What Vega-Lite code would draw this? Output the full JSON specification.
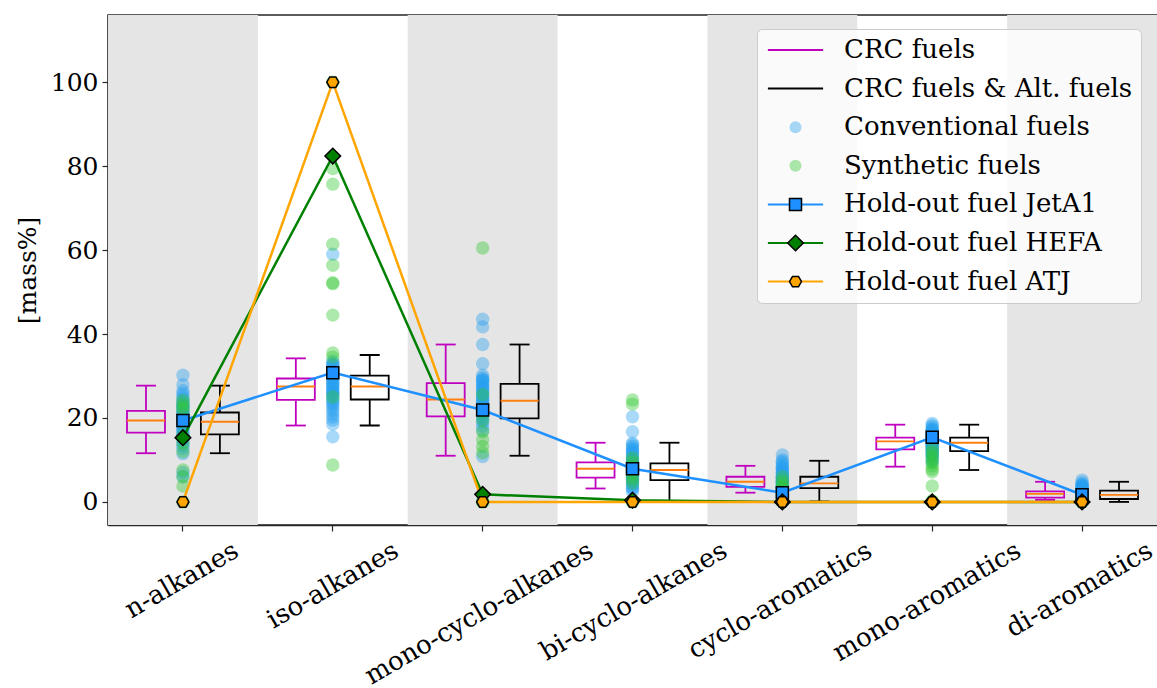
{
"$schema": "https://vega.github.io/schema/vega-lite/v6.json",
"width": 1049, "height": 510,
"autosize": "none",
"padding": {"left": 108, "top": 15, "right": 0, "bottom": 163},
"background": "white",
"config": {"font": "DejaVu Serif", "view": {"stroke": "#262626", "strokeWidth": 1.5}, "axis": {"grid": false}},
"datasets": {
"bands": [{"category": "n-alkanes"}, {"category": "mono-cyclo-alkanes"}, {"category": "cyclo-aromatics"}, {"category": "di-aromatics"}],
"boxes": [
{"category": "n-alkanes", "group": "CRC fuels", "lo": 11.6, "q1": 16.5, "med": 19.4, "q3": 21.7, "hi": 27.7},
{"category": "n-alkanes", "group": "CRC fuels & Alt. fuels", "lo": 11.6, "q1": 16.1, "med": 19.1, "q3": 21.3, "hi": 27.7},
{"category": "iso-alkanes", "group": "CRC fuels", "lo": 18.2, "q1": 24.3, "med": 27.5, "q3": 29.4, "hi": 34.2},
{"category": "iso-alkanes", "group": "CRC fuels & Alt. fuels", "lo": 18.2, "q1": 24.4, "med": 27.5, "q3": 30.1, "hi": 35.0},
{"category": "mono-cyclo-alkanes", "group": "CRC fuels", "lo": 11.0, "q1": 20.4, "med": 24.4, "q3": 28.3, "hi": 37.5},
{"category": "mono-cyclo-alkanes", "group": "CRC fuels & Alt. fuels", "lo": 11.0, "q1": 19.9, "med": 24.1, "q3": 28.1, "hi": 37.5},
{"category": "bi-cyclo-alkanes", "group": "CRC fuels", "lo": 3.2, "q1": 5.8, "med": 7.9, "q3": 9.4, "hi": 14.1},
{"category": "bi-cyclo-alkanes", "group": "CRC fuels & Alt. fuels", "lo": 0.2, "q1": 5.2, "med": 7.6, "q3": 9.2, "hi": 14.1},
{"category": "cyclo-aromatics", "group": "CRC fuels", "lo": 2.2, "q1": 3.6, "med": 4.8, "q3": 6.0, "hi": 8.6},
{"category": "cyclo-aromatics", "group": "CRC fuels & Alt. fuels", "lo": 0.1, "q1": 3.3, "med": 4.4, "q3": 6.0, "hi": 9.8},
{"category": "mono-aromatics", "group": "CRC fuels", "lo": 8.4, "q1": 12.5, "med": 14.4, "q3": 15.3, "hi": 18.4},
{"category": "mono-aromatics", "group": "CRC fuels & Alt. fuels", "lo": 7.6, "q1": 12.1, "med": 14.1, "q3": 15.3, "hi": 18.4},
{"category": "di-aromatics", "group": "CRC fuels", "lo": 0.5, "q1": 1.0, "med": 1.9, "q3": 2.5, "hi": 4.8},
{"category": "di-aromatics", "group": "CRC fuels & Alt. fuels", "lo": 0.0, "q1": 0.7, "med": 1.7, "q3": 2.7, "hi": 4.8}
],
"holdout": [
{"category": "n-alkanes", "series": "Hold-out fuel JetA1", "value": 19.4},
{"category": "iso-alkanes", "series": "Hold-out fuel JetA1", "value": 30.8},
{"category": "mono-cyclo-alkanes", "series": "Hold-out fuel JetA1", "value": 21.9},
{"category": "bi-cyclo-alkanes", "series": "Hold-out fuel JetA1", "value": 7.9},
{"category": "cyclo-aromatics", "series": "Hold-out fuel JetA1", "value": 2.2},
{"category": "mono-aromatics", "series": "Hold-out fuel JetA1", "value": 15.4},
{"category": "di-aromatics", "series": "Hold-out fuel JetA1", "value": 1.7},
{"category": "n-alkanes", "series": "Hold-out fuel HEFA", "value": 15.3},
{"category": "iso-alkanes", "series": "Hold-out fuel HEFA", "value": 82.4},
{"category": "mono-cyclo-alkanes", "series": "Hold-out fuel HEFA", "value": 1.8},
{"category": "bi-cyclo-alkanes", "series": "Hold-out fuel HEFA", "value": 0.4},
{"category": "cyclo-aromatics", "series": "Hold-out fuel HEFA", "value": 0.0},
{"category": "mono-aromatics", "series": "Hold-out fuel HEFA", "value": 0.0},
{"category": "di-aromatics", "series": "Hold-out fuel HEFA", "value": 0.0},
{"category": "n-alkanes", "series": "Hold-out fuel ATJ", "value": 0.0},
{"category": "iso-alkanes", "series": "Hold-out fuel ATJ", "value": 100.0},
{"category": "mono-cyclo-alkanes", "series": "Hold-out fuel ATJ", "value": 0.0},
{"category": "bi-cyclo-alkanes", "series": "Hold-out fuel ATJ", "value": 0.0},
{"category": "cyclo-aromatics", "series": "Hold-out fuel ATJ", "value": 0.0},
{"category": "mono-aromatics", "series": "Hold-out fuel ATJ", "value": 0.0},
{"category": "di-aromatics", "series": "Hold-out fuel ATJ", "value": 0.0}
],
"points": [
{"category":"n-alkanes","series":"Conventional fuels","value":30.2},{"category":"n-alkanes","series":"Conventional fuels","value":27.9},{"category":"n-alkanes","series":"Conventional fuels","value":26.5},{"category":"n-alkanes","series":"Conventional fuels","value":25.8},{"category":"n-alkanes","series":"Conventional fuels","value":25.2},{"category":"n-alkanes","series":"Conventional fuels","value":24.6},{"category":"n-alkanes","series":"Conventional fuels","value":24.0},{"category":"n-alkanes","series":"Conventional fuels","value":23.5},{"category":"n-alkanes","series":"Conventional fuels","value":23.1},{"category":"n-alkanes","series":"Conventional fuels","value":22.7},{"category":"n-alkanes","series":"Conventional fuels","value":22.3},{"category":"n-alkanes","series":"Conventional fuels","value":21.9},{"category":"n-alkanes","series":"Conventional fuels","value":21.5},{"category":"n-alkanes","series":"Conventional fuels","value":21.1},{"category":"n-alkanes","series":"Conventional fuels","value":20.7},{"category":"n-alkanes","series":"Conventional fuels","value":20.3},{"category":"n-alkanes","series":"Conventional fuels","value":20.0},{"category":"n-alkanes","series":"Conventional fuels","value":19.6},{"category":"n-alkanes","series":"Conventional fuels","value":19.2},{"category":"n-alkanes","series":"Conventional fuels","value":18.8},{"category":"n-alkanes","series":"Conventional fuels","value":18.4},{"category":"n-alkanes","series":"Conventional fuels","value":18.0},{"category":"n-alkanes","series":"Conventional fuels","value":17.6},{"category":"n-alkanes","series":"Conventional fuels","value":17.2},{"category":"n-alkanes","series":"Conventional fuels","value":16.8},{"category":"n-alkanes","series":"Conventional fuels","value":16.4},{"category":"n-alkanes","series":"Conventional fuels","value":16.0},{"category":"n-alkanes","series":"Conventional fuels","value":15.5},{"category":"n-alkanes","series":"Conventional fuels","value":15.0},{"category":"n-alkanes","series":"Conventional fuels","value":14.3},{"category":"n-alkanes","series":"Conventional fuels","value":13.5},{"category":"n-alkanes","series":"Conventional fuels","value":12.8},{"category":"n-alkanes","series":"Conventional fuels","value":11.5},{"category":"n-alkanes","series":"Conventional fuels","value":7.0},{"category":"n-alkanes","series":"Conventional fuels","value":6.0},{"category":"n-alkanes","series":"Conventional fuels","value":19.5},{"category":"n-alkanes","series":"Conventional fuels","value":21.0},{"category":"n-alkanes","series":"Conventional fuels","value":23.0},
{"category":"n-alkanes","series":"Synthetic fuels","value":24.2},{"category":"n-alkanes","series":"Synthetic fuels","value":23.3},{"category":"n-alkanes","series":"Synthetic fuels","value":22.5},{"category":"n-alkanes","series":"Synthetic fuels","value":21.8},{"category":"n-alkanes","series":"Synthetic fuels","value":19.0},{"category":"n-alkanes","series":"Synthetic fuels","value":15.8},{"category":"n-alkanes","series":"Synthetic fuels","value":14.0},{"category":"n-alkanes","series":"Synthetic fuels","value":12.0},{"category":"n-alkanes","series":"Synthetic fuels","value":7.6},{"category":"n-alkanes","series":"Synthetic fuels","value":6.0},{"category":"n-alkanes","series":"Synthetic fuels","value":3.8},{"category":"n-alkanes","series":"Synthetic fuels","value":0.0},
{"category":"iso-alkanes","series":"Conventional fuels","value":59.0},{"category":"iso-alkanes","series":"Conventional fuels","value":33.5},{"category":"iso-alkanes","series":"Conventional fuels","value":33.0},{"category":"iso-alkanes","series":"Conventional fuels","value":32.5},{"category":"iso-alkanes","series":"Conventional fuels","value":32.0},{"category":"iso-alkanes","series":"Conventional fuels","value":31.5},{"category":"iso-alkanes","series":"Conventional fuels","value":31.0},{"category":"iso-alkanes","series":"Conventional fuels","value":30.6},{"category":"iso-alkanes","series":"Conventional fuels","value":30.2},{"category":"iso-alkanes","series":"Conventional fuels","value":29.8},{"category":"iso-alkanes","series":"Conventional fuels","value":29.4},{"category":"iso-alkanes","series":"Conventional fuels","value":29.0},{"category":"iso-alkanes","series":"Conventional fuels","value":28.6},{"category":"iso-alkanes","series":"Conventional fuels","value":28.2},{"category":"iso-alkanes","series":"Conventional fuels","value":27.8},{"category":"iso-alkanes","series":"Conventional fuels","value":27.4},{"category":"iso-alkanes","series":"Conventional fuels","value":27.0},{"category":"iso-alkanes","series":"Conventional fuels","value":26.6},{"category":"iso-alkanes","series":"Conventional fuels","value":26.2},{"category":"iso-alkanes","series":"Conventional fuels","value":25.8},{"category":"iso-alkanes","series":"Conventional fuels","value":25.4},{"category":"iso-alkanes","series":"Conventional fuels","value":25.0},{"category":"iso-alkanes","series":"Conventional fuels","value":24.5},{"category":"iso-alkanes","series":"Conventional fuels","value":24.0},{"category":"iso-alkanes","series":"Conventional fuels","value":23.5},{"category":"iso-alkanes","series":"Conventional fuels","value":23.0},{"category":"iso-alkanes","series":"Conventional fuels","value":22.4},{"category":"iso-alkanes","series":"Conventional fuels","value":21.8},{"category":"iso-alkanes","series":"Conventional fuels","value":21.0},{"category":"iso-alkanes","series":"Conventional fuels","value":20.2},{"category":"iso-alkanes","series":"Conventional fuels","value":19.5},{"category":"iso-alkanes","series":"Conventional fuels","value":18.5},{"category":"iso-alkanes","series":"Conventional fuels","value":15.5},{"category":"iso-alkanes","series":"Conventional fuels","value":30.0},{"category":"iso-alkanes","series":"Conventional fuels","value":28.0},{"category":"iso-alkanes","series":"Conventional fuels","value":26.0},{"category":"iso-alkanes","series":"Conventional fuels","value":32.8},{"category":"iso-alkanes","series":"Conventional fuels","value":31.2},
{"category":"iso-alkanes","series":"Synthetic fuels","value":100.0},{"category":"iso-alkanes","series":"Synthetic fuels","value":79.4},{"category":"iso-alkanes","series":"Synthetic fuels","value":75.7},{"category":"iso-alkanes","series":"Synthetic fuels","value":61.4},{"category":"iso-alkanes","series":"Synthetic fuels","value":56.4},{"category":"iso-alkanes","series":"Synthetic fuels","value":52.2},{"category":"iso-alkanes","series":"Synthetic fuels","value":52.0},{"category":"iso-alkanes","series":"Synthetic fuels","value":44.5},{"category":"iso-alkanes","series":"Synthetic fuels","value":35.5},{"category":"iso-alkanes","series":"Synthetic fuels","value":34.5},{"category":"iso-alkanes","series":"Synthetic fuels","value":25.0},{"category":"iso-alkanes","series":"Synthetic fuels","value":8.8},
{"category":"mono-cyclo-alkanes","series":"Conventional fuels","value":43.5},{"category":"mono-cyclo-alkanes","series":"Conventional fuels","value":41.7},{"category":"mono-cyclo-alkanes","series":"Conventional fuels","value":37.5},{"category":"mono-cyclo-alkanes","series":"Conventional fuels","value":32.9},{"category":"mono-cyclo-alkanes","series":"Conventional fuels","value":30.2},{"category":"mono-cyclo-alkanes","series":"Conventional fuels","value":29.6},{"category":"mono-cyclo-alkanes","series":"Conventional fuels","value":29.0},{"category":"mono-cyclo-alkanes","series":"Conventional fuels","value":28.5},{"category":"mono-cyclo-alkanes","series":"Conventional fuels","value":28.0},{"category":"mono-cyclo-alkanes","series":"Conventional fuels","value":27.5},{"category":"mono-cyclo-alkanes","series":"Conventional fuels","value":27.0},{"category":"mono-cyclo-alkanes","series":"Conventional fuels","value":26.5},{"category":"mono-cyclo-alkanes","series":"Conventional fuels","value":26.0},{"category":"mono-cyclo-alkanes","series":"Conventional fuels","value":25.5},{"category":"mono-cyclo-alkanes","series":"Conventional fuels","value":25.0},{"category":"mono-cyclo-alkanes","series":"Conventional fuels","value":24.5},{"category":"mono-cyclo-alkanes","series":"Conventional fuels","value":24.0},{"category":"mono-cyclo-alkanes","series":"Conventional fuels","value":23.5},{"category":"mono-cyclo-alkanes","series":"Conventional fuels","value":23.0},{"category":"mono-cyclo-alkanes","series":"Conventional fuels","value":22.5},{"category":"mono-cyclo-alkanes","series":"Conventional fuels","value":22.0},{"category":"mono-cyclo-alkanes","series":"Conventional fuels","value":21.5},{"category":"mono-cyclo-alkanes","series":"Conventional fuels","value":21.0},{"category":"mono-cyclo-alkanes","series":"Conventional fuels","value":20.5},{"category":"mono-cyclo-alkanes","series":"Conventional fuels","value":20.0},{"category":"mono-cyclo-alkanes","series":"Conventional fuels","value":19.5},{"category":"mono-cyclo-alkanes","series":"Conventional fuels","value":19.0},{"category":"mono-cyclo-alkanes","series":"Conventional fuels","value":18.0},{"category":"mono-cyclo-alkanes","series":"Conventional fuels","value":17.1},{"category":"mono-cyclo-alkanes","series":"Conventional fuels","value":10.8},{"category":"mono-cyclo-alkanes","series":"Conventional fuels","value":29.2},{"category":"mono-cyclo-alkanes","series":"Conventional fuels","value":27.2},{"category":"mono-cyclo-alkanes","series":"Conventional fuels","value":25.2},{"category":"mono-cyclo-alkanes","series":"Conventional fuels","value":23.2},{"category":"mono-cyclo-alkanes","series":"Conventional fuels","value":21.2},{"category":"mono-cyclo-alkanes","series":"Conventional fuels","value":24.2},{"category":"mono-cyclo-alkanes","series":"Conventional fuels","value":26.2},{"category":"mono-cyclo-alkanes","series":"Conventional fuels","value":28.8},
{"category":"mono-cyclo-alkanes","series":"Synthetic fuels","value":60.5},{"category":"mono-cyclo-alkanes","series":"Synthetic fuels","value":25.6},{"category":"mono-cyclo-alkanes","series":"Synthetic fuels","value":22.0},{"category":"mono-cyclo-alkanes","series":"Synthetic fuels","value":21.5},{"category":"mono-cyclo-alkanes","series":"Synthetic fuels","value":16.7},{"category":"mono-cyclo-alkanes","series":"Synthetic fuels","value":14.8},{"category":"mono-cyclo-alkanes","series":"Synthetic fuels","value":13.2},{"category":"mono-cyclo-alkanes","series":"Synthetic fuels","value":11.7},{"category":"mono-cyclo-alkanes","series":"Synthetic fuels","value":19.5},{"category":"mono-cyclo-alkanes","series":"Synthetic fuels","value":0.0},{"category":"mono-cyclo-alkanes","series":"Synthetic fuels","value":0.0},{"category":"mono-cyclo-alkanes","series":"Synthetic fuels","value":0.3},
{"category":"bi-cyclo-alkanes","series":"Conventional fuels","value":20.3},{"category":"bi-cyclo-alkanes","series":"Conventional fuels","value":16.7},{"category":"bi-cyclo-alkanes","series":"Conventional fuels","value":14.0},{"category":"bi-cyclo-alkanes","series":"Conventional fuels","value":13.2},{"category":"bi-cyclo-alkanes","series":"Conventional fuels","value":12.6},{"category":"bi-cyclo-alkanes","series":"Conventional fuels","value":12.0},{"category":"bi-cyclo-alkanes","series":"Conventional fuels","value":11.5},{"category":"bi-cyclo-alkanes","series":"Conventional fuels","value":11.0},{"category":"bi-cyclo-alkanes","series":"Conventional fuels","value":10.6},{"category":"bi-cyclo-alkanes","series":"Conventional fuels","value":10.2},{"category":"bi-cyclo-alkanes","series":"Conventional fuels","value":9.8},{"category":"bi-cyclo-alkanes","series":"Conventional fuels","value":9.4},{"category":"bi-cyclo-alkanes","series":"Conventional fuels","value":9.0},{"category":"bi-cyclo-alkanes","series":"Conventional fuels","value":8.6},{"category":"bi-cyclo-alkanes","series":"Conventional fuels","value":8.2},{"category":"bi-cyclo-alkanes","series":"Conventional fuels","value":7.8},{"category":"bi-cyclo-alkanes","series":"Conventional fuels","value":7.4},{"category":"bi-cyclo-alkanes","series":"Conventional fuels","value":7.0},{"category":"bi-cyclo-alkanes","series":"Conventional fuels","value":6.6},{"category":"bi-cyclo-alkanes","series":"Conventional fuels","value":6.2},{"category":"bi-cyclo-alkanes","series":"Conventional fuels","value":5.8},{"category":"bi-cyclo-alkanes","series":"Conventional fuels","value":5.4},{"category":"bi-cyclo-alkanes","series":"Conventional fuels","value":5.0},{"category":"bi-cyclo-alkanes","series":"Conventional fuels","value":4.6},{"category":"bi-cyclo-alkanes","series":"Conventional fuels","value":4.2},{"category":"bi-cyclo-alkanes","series":"Conventional fuels","value":3.8},{"category":"bi-cyclo-alkanes","series":"Conventional fuels","value":3.4},{"category":"bi-cyclo-alkanes","series":"Conventional fuels","value":3.0},{"category":"bi-cyclo-alkanes","series":"Conventional fuels","value":2.5},{"category":"bi-cyclo-alkanes","series":"Conventional fuels","value":12.5},{"category":"bi-cyclo-alkanes","series":"Conventional fuels","value":10.0},{"category":"bi-cyclo-alkanes","series":"Conventional fuels","value":8.0},{"category":"bi-cyclo-alkanes","series":"Conventional fuels","value":6.0},{"category":"bi-cyclo-alkanes","series":"Conventional fuels","value":11.8},{"category":"bi-cyclo-alkanes","series":"Conventional fuels","value":9.2},{"category":"bi-cyclo-alkanes","series":"Conventional fuels","value":7.2},{"category":"bi-cyclo-alkanes","series":"Conventional fuels","value":5.2},{"category":"bi-cyclo-alkanes","series":"Conventional fuels","value":13.6},
{"category":"bi-cyclo-alkanes","series":"Synthetic fuels","value":24.3},{"category":"bi-cyclo-alkanes","series":"Synthetic fuels","value":23.3},{"category":"bi-cyclo-alkanes","series":"Synthetic fuels","value":10.5},{"category":"bi-cyclo-alkanes","series":"Synthetic fuels","value":9.5},{"category":"bi-cyclo-alkanes","series":"Synthetic fuels","value":8.5},{"category":"bi-cyclo-alkanes","series":"Synthetic fuels","value":7.5},{"category":"bi-cyclo-alkanes","series":"Synthetic fuels","value":6.5},{"category":"bi-cyclo-alkanes","series":"Synthetic fuels","value":5.5},{"category":"bi-cyclo-alkanes","series":"Synthetic fuels","value":4.5},{"category":"bi-cyclo-alkanes","series":"Synthetic fuels","value":0.0},{"category":"bi-cyclo-alkanes","series":"Synthetic fuels","value":0.0},{"category":"bi-cyclo-alkanes","series":"Synthetic fuels","value":0.2},
{"category":"cyclo-aromatics","series":"Conventional fuels","value":11.2},{"category":"cyclo-aromatics","series":"Conventional fuels","value":10.0},{"category":"cyclo-aromatics","series":"Conventional fuels","value":9.2},{"category":"cyclo-aromatics","series":"Conventional fuels","value":8.6},{"category":"cyclo-aromatics","series":"Conventional fuels","value":8.0},{"category":"cyclo-aromatics","series":"Conventional fuels","value":7.5},{"category":"cyclo-aromatics","series":"Conventional fuels","value":7.0},{"category":"cyclo-aromatics","series":"Conventional fuels","value":6.6},{"category":"cyclo-aromatics","series":"Conventional fuels","value":6.2},{"category":"cyclo-aromatics","series":"Conventional fuels","value":5.8},{"category":"cyclo-aromatics","series":"Conventional fuels","value":5.4},{"category":"cyclo-aromatics","series":"Conventional fuels","value":5.0},{"category":"cyclo-aromatics","series":"Conventional fuels","value":4.7},{"category":"cyclo-aromatics","series":"Conventional fuels","value":4.4},{"category":"cyclo-aromatics","series":"Conventional fuels","value":4.1},{"category":"cyclo-aromatics","series":"Conventional fuels","value":3.8},{"category":"cyclo-aromatics","series":"Conventional fuels","value":3.5},{"category":"cyclo-aromatics","series":"Conventional fuels","value":3.2},{"category":"cyclo-aromatics","series":"Conventional fuels","value":2.9},{"category":"cyclo-aromatics","series":"Conventional fuels","value":2.6},{"category":"cyclo-aromatics","series":"Conventional fuels","value":2.3},{"category":"cyclo-aromatics","series":"Conventional fuels","value":2.0},{"category":"cyclo-aromatics","series":"Conventional fuels","value":1.7},{"category":"cyclo-aromatics","series":"Conventional fuels","value":1.4},{"category":"cyclo-aromatics","series":"Conventional fuels","value":6.0},{"category":"cyclo-aromatics","series":"Conventional fuels","value":5.2},{"category":"cyclo-aromatics","series":"Conventional fuels","value":4.5},{"category":"cyclo-aromatics","series":"Conventional fuels","value":3.6},{"category":"cyclo-aromatics","series":"Conventional fuels","value":7.8},{"category":"cyclo-aromatics","series":"Conventional fuels","value":6.8},{"category":"cyclo-aromatics","series":"Conventional fuels","value":5.6},{"category":"cyclo-aromatics","series":"Conventional fuels","value":4.9},{"category":"cyclo-aromatics","series":"Conventional fuels","value":4.2},{"category":"cyclo-aromatics","series":"Conventional fuels","value":3.0},{"category":"cyclo-aromatics","series":"Conventional fuels","value":2.4},{"category":"cyclo-aromatics","series":"Conventional fuels","value":9.6},{"category":"cyclo-aromatics","series":"Conventional fuels","value":8.3},{"category":"cyclo-aromatics","series":"Conventional fuels","value":1.0},
{"category":"cyclo-aromatics","series":"Synthetic fuels","value":6.0},{"category":"cyclo-aromatics","series":"Synthetic fuels","value":5.0},{"category":"cyclo-aromatics","series":"Synthetic fuels","value":4.2},{"category":"cyclo-aromatics","series":"Synthetic fuels","value":3.6},{"category":"cyclo-aromatics","series":"Synthetic fuels","value":3.0},{"category":"cyclo-aromatics","series":"Synthetic fuels","value":2.5},{"category":"cyclo-aromatics","series":"Synthetic fuels","value":2.0},{"category":"cyclo-aromatics","series":"Synthetic fuels","value":1.5},{"category":"cyclo-aromatics","series":"Synthetic fuels","value":1.0},{"category":"cyclo-aromatics","series":"Synthetic fuels","value":0.5},{"category":"cyclo-aromatics","series":"Synthetic fuels","value":0.0},{"category":"cyclo-aromatics","series":"Synthetic fuels","value":0.0},
{"category":"mono-aromatics","series":"Conventional fuels","value":18.7},{"category":"mono-aromatics","series":"Conventional fuels","value":18.2},{"category":"mono-aromatics","series":"Conventional fuels","value":17.8},{"category":"mono-aromatics","series":"Conventional fuels","value":17.4},{"category":"mono-aromatics","series":"Conventional fuels","value":17.0},{"category":"mono-aromatics","series":"Conventional fuels","value":16.6},{"category":"mono-aromatics","series":"Conventional fuels","value":16.3},{"category":"mono-aromatics","series":"Conventional fuels","value":16.0},{"category":"mono-aromatics","series":"Conventional fuels","value":15.7},{"category":"mono-aromatics","series":"Conventional fuels","value":15.4},{"category":"mono-aromatics","series":"Conventional fuels","value":15.1},{"category":"mono-aromatics","series":"Conventional fuels","value":14.8},{"category":"mono-aromatics","series":"Conventional fuels","value":14.5},{"category":"mono-aromatics","series":"Conventional fuels","value":14.2},{"category":"mono-aromatics","series":"Conventional fuels","value":13.9},{"category":"mono-aromatics","series":"Conventional fuels","value":13.6},{"category":"mono-aromatics","series":"Conventional fuels","value":13.3},{"category":"mono-aromatics","series":"Conventional fuels","value":13.0},{"category":"mono-aromatics","series":"Conventional fuels","value":12.7},{"category":"mono-aromatics","series":"Conventional fuels","value":12.4},{"category":"mono-aromatics","series":"Conventional fuels","value":12.1},{"category":"mono-aromatics","series":"Conventional fuels","value":11.8},{"category":"mono-aromatics","series":"Conventional fuels","value":11.5},{"category":"mono-aromatics","series":"Conventional fuels","value":11.0},{"category":"mono-aromatics","series":"Conventional fuels","value":10.5},{"category":"mono-aromatics","series":"Conventional fuels","value":10.0},{"category":"mono-aromatics","series":"Conventional fuels","value":9.5},{"category":"mono-aromatics","series":"Conventional fuels","value":17.2},{"category":"mono-aromatics","series":"Conventional fuels","value":16.2},{"category":"mono-aromatics","series":"Conventional fuels","value":15.0},{"category":"mono-aromatics","series":"Conventional fuels","value":14.0},{"category":"mono-aromatics","series":"Conventional fuels","value":13.2},{"category":"mono-aromatics","series":"Conventional fuels","value":12.2},{"category":"mono-aromatics","series":"Conventional fuels","value":11.2},{"category":"mono-aromatics","series":"Conventional fuels","value":15.6},{"category":"mono-aromatics","series":"Conventional fuels","value":14.6},{"category":"mono-aromatics","series":"Conventional fuels","value":13.8},{"category":"mono-aromatics","series":"Conventional fuels","value":16.8},
{"category":"mono-aromatics","series":"Synthetic fuels","value":12.8},{"category":"mono-aromatics","series":"Synthetic fuels","value":11.8},{"category":"mono-aromatics","series":"Synthetic fuels","value":11.0},{"category":"mono-aromatics","series":"Synthetic fuels","value":10.2},{"category":"mono-aromatics","series":"Synthetic fuels","value":9.4},{"category":"mono-aromatics","series":"Synthetic fuels","value":8.6},{"category":"mono-aromatics","series":"Synthetic fuels","value":7.8},{"category":"mono-aromatics","series":"Synthetic fuels","value":7.2},{"category":"mono-aromatics","series":"Synthetic fuels","value":3.8},{"category":"mono-aromatics","series":"Synthetic fuels","value":0.0},{"category":"mono-aromatics","series":"Synthetic fuels","value":0.0},{"category":"mono-aromatics","series":"Synthetic fuels","value":0.3},
{"category":"di-aromatics","series":"Conventional fuels","value":5.2},{"category":"di-aromatics","series":"Conventional fuels","value":4.6},{"category":"di-aromatics","series":"Conventional fuels","value":4.2},{"category":"di-aromatics","series":"Conventional fuels","value":3.9},{"category":"di-aromatics","series":"Conventional fuels","value":3.6},{"category":"di-aromatics","series":"Conventional fuels","value":3.3},{"category":"di-aromatics","series":"Conventional fuels","value":3.0},{"category":"di-aromatics","series":"Conventional fuels","value":2.8},{"category":"di-aromatics","series":"Conventional fuels","value":2.6},{"category":"di-aromatics","series":"Conventional fuels","value":2.4},{"category":"di-aromatics","series":"Conventional fuels","value":2.2},{"category":"di-aromatics","series":"Conventional fuels","value":2.0},{"category":"di-aromatics","series":"Conventional fuels","value":1.8},{"category":"di-aromatics","series":"Conventional fuels","value":1.6},{"category":"di-aromatics","series":"Conventional fuels","value":1.4},{"category":"di-aromatics","series":"Conventional fuels","value":1.2},{"category":"di-aromatics","series":"Conventional fuels","value":1.0},{"category":"di-aromatics","series":"Conventional fuels","value":0.8},{"category":"di-aromatics","series":"Conventional fuels","value":0.6},{"category":"di-aromatics","series":"Conventional fuels","value":0.4},{"category":"di-aromatics","series":"Conventional fuels","value":3.4},{"category":"di-aromatics","series":"Conventional fuels","value":2.9},{"category":"di-aromatics","series":"Conventional fuels","value":2.5},{"category":"di-aromatics","series":"Conventional fuels","value":2.1},{"category":"di-aromatics","series":"Conventional fuels","value":1.7},{"category":"di-aromatics","series":"Conventional fuels","value":1.3},{"category":"di-aromatics","series":"Conventional fuels","value":0.9},{"category":"di-aromatics","series":"Conventional fuels","value":3.7},{"category":"di-aromatics","series":"Conventional fuels","value":3.1},{"category":"di-aromatics","series":"Conventional fuels","value":2.3},{"category":"di-aromatics","series":"Conventional fuels","value":1.9},{"category":"di-aromatics","series":"Conventional fuels","value":1.5},{"category":"di-aromatics","series":"Conventional fuels","value":1.1},{"category":"di-aromatics","series":"Conventional fuels","value":0.7},{"category":"di-aromatics","series":"Conventional fuels","value":2.7},{"category":"di-aromatics","series":"Conventional fuels","value":2.0},{"category":"di-aromatics","series":"Conventional fuels","value":1.6},{"category":"di-aromatics","series":"Conventional fuels","value":4.0},
{"category":"di-aromatics","series":"Synthetic fuels","value":1.2},{"category":"di-aromatics","series":"Synthetic fuels","value":1.0},{"category":"di-aromatics","series":"Synthetic fuels","value":0.8},{"category":"di-aromatics","series":"Synthetic fuels","value":0.6},{"category":"di-aromatics","series":"Synthetic fuels","value":0.4},{"category":"di-aromatics","series":"Synthetic fuels","value":0.2},{"category":"di-aromatics","series":"Synthetic fuels","value":0.0},{"category":"di-aromatics","series":"Synthetic fuels","value":0.0},{"category":"di-aromatics","series":"Synthetic fuels","value":0.0},{"category":"di-aromatics","series":"Synthetic fuels","value":0.1},{"category":"di-aromatics","series":"Synthetic fuels","value":0.3},{"category":"di-aromatics","series":"Synthetic fuels","value":0.5}
]
},
"encoding": {
"x": {"field": "category", "type": "nominal", "title": null,
"sort": ["n-alkanes", "iso-alkanes", "mono-cyclo-alkanes", "bi-cyclo-alkanes", "cyclo-aromatics", "mono-aromatics", "di-aromatics"],
"scale": {"paddingInner": 0, "paddingOuter": 0},
"axis": {"labelAngle": -30, "labelAlign": "right", "labelBaseline": "top", "labelFont": "DejaVu Serif", "labelFontSize": 26, "labelColor": "black", "labelPadding": 6, "tickSize": 6, "tickWidth": 1.2, "tickColor": "#262626", "domainColor": "#262626", "domainWidth": 1.5, "labelOverlap": false, "labelLimit": 500,
"labelOffset": {"condition": [{"test": "datum.value == 'n-alkanes'", "value": 47}, {"test": "datum.value == 'iso-alkanes'", "value": 57}, {"test": "datum.value == 'mono-cyclo-alkanes'", "value": 102}, {"test": "datum.value == 'bi-cyclo-alkanes'", "value": 86}, {"test": "datum.value == 'cyclo-aromatics'", "value": 81}, {"test": "datum.value == 'mono-aromatics'", "value": 80}], "value": 62}}}
},
"layer": [
{"data": {"name": "bands"}, "mark": {"type": "bar", "color": "#e5e5e5", "opacity": 1},
 "encoding": {"y": {"datum": 116, "type": "quantitative"}, "y2": {"datum": -5.5}}},
{"data": {"name": "boxes"},
 "encoding": {
  "xOffset": {"field": "group", "type": "nominal", "sort": ["CRC fuels", "CRC fuels & Alt. fuels"], "scale": {"paddingInner": 0.486, "paddingOuter": 0.257}},
  "color": {"field": "group", "type": "nominal", "scale": {"domain": ["CRC fuels", "CRC fuels & Alt. fuels"], "range": ["#bf00bf", "black"]}, "legend": null}},
 "layer": [
  {"mark": {"type": "bar", "filled": false, "strokeWidth": 1.8, "opacity": 1}, "encoding": {"y": {"field": "q1", "type": "quantitative"}, "y2": {"field": "q3"}}},
  {"mark": {"type": "rule", "strokeWidth": 1.8}, "encoding": {"y": {"field": "lo", "type": "quantitative"}, "y2": {"field": "q1"}}},
  {"mark": {"type": "rule", "strokeWidth": 1.8}, "encoding": {"y": {"field": "q3", "type": "quantitative"}, "y2": {"field": "hi"}}},
  {"mark": {"type": "tick", "size": 20, "thickness": 1.8, "opacity": 1}, "encoding": {"y": {"field": "lo", "type": "quantitative"}}},
  {"mark": {"type": "tick", "size": 20, "thickness": 1.8, "opacity": 1}, "encoding": {"y": {"field": "hi", "type": "quantitative"}}},
  {"mark": {"type": "tick", "size": 38, "thickness": 1.8, "opacity": 1}, "encoding": {"y": {"field": "med", "type": "quantitative"}, "color": {"value": "#ff7f0e"}}}
 ]},
{"layer": [
 {"data": {"name": "points"}, "mark": {"type": "point", "filled": true, "size": 180, "strokeWidth": 2, "opacity": 1},
  "encoding": {
   "y": {"field": "value", "type": "quantitative", "scale": {"domain": [-5.5, 116], "nice": false, "zero": false},
    "axis": {"values": [0, 20, 40, 60, 80, 100], "labelFont": "DejaVu Serif", "labelFontSize": 25, "labelColor": "black", "labelPadding": 4, "tickSize": 6, "tickWidth": 1.2, "tickColor": "#262626", "domainColor": "#262626", "domainWidth": 1.5, "title": "[mass%]", "titleFont": "DejaVu Serif", "titleFontSize": 25, "titleFontWeight": "normal", "titleColor": "black", "titlePadding": 10}},
   "fill": {"field": "series", "type": "nominal", "scale": {"domain": ["CRC fuels", "CRC fuels & Alt. fuels", "Conventional fuels", "Synthetic fuels", "Hold-out fuel JetA1", "Hold-out fuel HEFA", "Hold-out fuel ATJ"], "range": ["transparent", "transparent", "rgba(40,160,240,0.4)", "rgba(50,200,50,0.4)", "transparent", "transparent", "transparent"]},
    "legend": {"orient": "none", "legendX": 649, "legendY": 14, "title": null, "labelFont": "DejaVu Serif", "labelFontSize": 26, "labelColor": "black", "labelLimit": 500, "padding": 8, "rowPadding": 12.6, "symbolOffset": 17.5, "labelOffset": 35.5, "symbolSize": 144, "symbolStrokeWidth": 2, "symbolOpacity": 1, "fillColor": "rgba(255,255,255,0.8)", "strokeColor": "#cccccc", "cornerRadius": 5}},
   "stroke": {"field": "series", "type": "nominal", "scale": {"domain": ["CRC fuels", "CRC fuels & Alt. fuels", "Conventional fuels", "Synthetic fuels", "Hold-out fuel JetA1", "Hold-out fuel HEFA", "Hold-out fuel ATJ"], "range": ["#bf00bf", "black", "transparent", "transparent", "#1e90ff", "green", "orange"]},
    "legend": {"orient": "none", "legendX": 649, "legendY": 14, "title": null, "labelFont": "DejaVu Serif", "labelFontSize": 26, "labelColor": "black", "labelLimit": 500, "padding": 8, "rowPadding": 12.6, "symbolOffset": 17.5, "labelOffset": 35.5, "symbolSize": 144, "symbolStrokeWidth": 2, "symbolOpacity": 1, "fillColor": "rgba(255,255,255,0.8)", "strokeColor": "#cccccc", "cornerRadius": 5}},
   "shape": {"field": "series", "type": "nominal", "scale": {"domain": ["CRC fuels", "CRC fuels & Alt. fuels", "Conventional fuels", "Synthetic fuels", "Hold-out fuel JetA1", "Hold-out fuel HEFA", "Hold-out fuel ATJ"], "range": ["M-4.6,0L4.6,0", "M-4.6,0L4.6,0", "circle", "circle", "M-4.6,0L4.6,0", "M-4.6,0L4.6,0", "M-4.6,0L4.6,0"]},
    "legend": {"orient": "none", "legendX": 649, "legendY": 14, "title": null, "labelFont": "DejaVu Serif", "labelFontSize": 26, "labelColor": "black", "labelLimit": 500, "padding": 8, "rowPadding": 12.6, "symbolOffset": 17.5, "labelOffset": 35.5, "symbolSize": 144, "symbolStrokeWidth": 2, "symbolOpacity": 1, "fillColor": "rgba(255,255,255,0.8)", "strokeColor": "#cccccc", "cornerRadius": 5}}
  }},
 {"data": {"name": "holdout"}, "mark": {"type": "line", "strokeWidth": 2.5},
  "encoding": {
   "y": {"field": "value", "type": "quantitative"},
   "stroke": {"field": "series", "type": "nominal",
    "legend": {"orient": "none", "legendX": 649, "legendY": 14, "title": null, "labelFont": "DejaVu Serif", "labelFontSize": 26, "labelColor": "black", "labelLimit": 500, "padding": 8, "rowPadding": 12.6, "symbolOffset": 17.5, "labelOffset": 35.5, "symbolSize": 144, "symbolStrokeWidth": 2, "symbolOpacity": 1, "fillColor": "rgba(255,255,255,0.8)", "strokeColor": "#cccccc", "cornerRadius": 5}}
  }}
]},
{"data": {"name": "holdout"}, "mark": {"type": "point", "filled": true, "size": 144, "stroke": "black", "strokeWidth": 1.5, "opacity": 1},
 "encoding": {
  "y": {"field": "value", "type": "quantitative"},
  "fill": {"field": "series", "type": "nominal", "scale": {"domain": ["CRC fuels", "CRC fuels & Alt. fuels", "Conventional fuels", "Synthetic fuels", "Hold-out fuel JetA1", "Hold-out fuel HEFA", "Hold-out fuel ATJ"], "range": ["transparent", "transparent", "transparent", "transparent", "#1e90ff", "green", "orange"]},
   "legend": {"orient": "none", "legendX": 649, "legendY": 14, "title": null, "labelFont": "DejaVu Serif", "labelFontSize": 26, "labelOpacity": 0, "labelLimit": 500, "padding": 8, "rowPadding": 12.6, "symbolOffset": 17.5, "labelOffset": 35.5, "symbolSize": 144, "symbolStrokeWidth": 1.5, "symbolStrokeColor": "black", "symbolOpacity": 1, "encode": {"symbols": {"update": {"stroke": {"value": "black"}, "strokeWidth": {"value": 1.5}}}}}},
  "shape": {"field": "series", "type": "nominal", "scale": {"domain": ["CRC fuels", "CRC fuels & Alt. fuels", "Conventional fuels", "Synthetic fuels", "Hold-out fuel JetA1", "Hold-out fuel HEFA", "Hold-out fuel ATJ"], "range": ["M0,0", "M0,0", "M0,0", "M0,0", "square", "M-1.3,0L0,-1.3L1.3,0L0,1.3Z", "M-1,0L-0.5,-0.87L0.5,-0.87L1,0L0.5,0.87L-0.5,0.87Z"]},
   "legend": {"orient": "none", "legendX": 649, "legendY": 14, "title": null, "labelFont": "DejaVu Serif", "labelFontSize": 26, "labelOpacity": 0, "labelLimit": 500, "padding": 8, "rowPadding": 12.6, "symbolOffset": 17.5, "labelOffset": 35.5, "symbolSize": 144, "symbolStrokeWidth": 1.5, "symbolStrokeColor": "black", "symbolOpacity": 1, "encode": {"symbols": {"update": {"stroke": {"value": "black"}, "strokeWidth": {"value": 1.5}}}}}}
 }}
],
"resolve": {"scale": {"fill": "independent", "shape": "independent", "stroke": "independent"}, "legend": {"fill": "independent", "shape": "independent", "stroke": "independent"}}
}
